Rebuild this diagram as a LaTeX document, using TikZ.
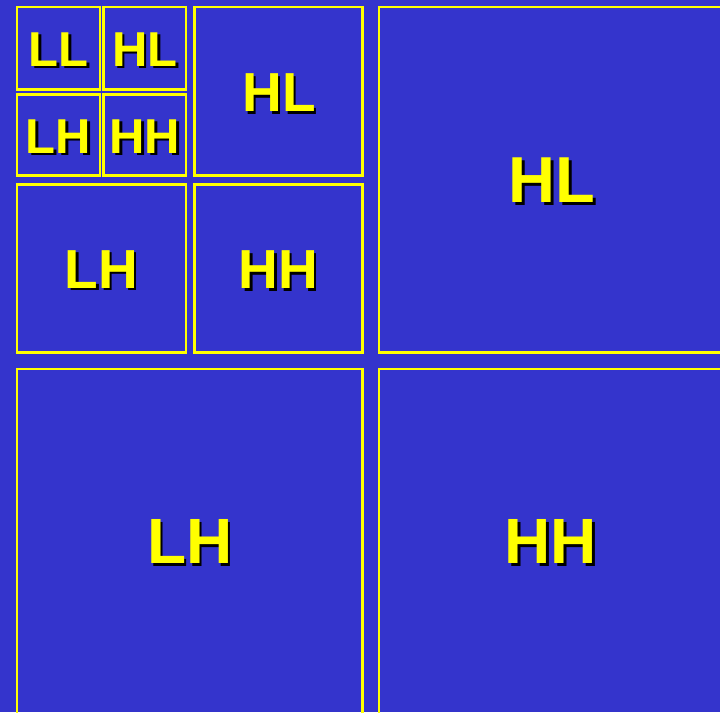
\documentclass[tikz,border=0pt]{standalone}
\usepackage{fontspec}
\setmainfont{Liberation Sans}
\definecolor{bgblue}{HTML}{3434CC}
\definecolor{ylw}{HTML}{FFFF00}
\tikzset{
  band/.style={draw=ylw, line width=2.5pt},
  lbl/.style={anchor=base, inner sep=0pt, text=ylw},
  shd/.style={anchor=base, inner sep=0pt, text=black},
}
\newcommand{\bandlabel}[5]{%
  \node[shd, font=\fontsize{#4}{#4}\selectfont\bfseries] (#1s) at ({#2+2.5},{712-#3-0.35*#4-2.5}) {#5};
  \node[lbl, font=\fontsize{#4}{#4}\selectfont\bfseries] (#1) at ({#2},{712-#3-0.35*#4}) {#5};
}
\newcommand{\bandbox}[5]{%
  \draw[band] ({#2},{712-#3}) rectangle ({#4},{712-#5}) coordinate (#1);
}
\begin{document}
\begin{tikzpicture}[x=1pt,y=1pt]
\fill[bgblue] (0,0) rectangle (720,712);
\useasboundingbox (0,0) rectangle (720,712);
\begin{scope}
\clip (0,0) rectangle (720,712);
\bandbox{bLL}{17}{7}{100}{89.7}
\bandbox{bHLs}{103.7}{7}{186}{89.7}
\bandbox{bLHs}{17}{94.3}{100}{175.7}
\bandbox{bHHs}{103.7}{94.3}{186}{175.7}
\bandbox{bHLm}{194.3}{7}{362.7}{175.7}
\bandbox{bLHm}{17}{184.3}{186}{352.7}
\bandbox{bHHm}{194.3}{184.3}{362.7}{352.7}
\bandbox{bHLL}{379}{7}{726}{352.7}
\bandbox{bLHL}{17}{369}{362.7}{716}
\bandbox{bHHL}{379}{369}{726}{716}
\end{scope}
\bandlabel{tLL}{58.5}{49}{49}{LL}
\bandlabel{tHLs}{145}{49}{49}{HL}
\bandlabel{tLHs}{58.5}{136}{49}{LH}
\bandlabel{tHHs}{145}{136}{49}{HH}
\bandlabel{tHLm}{279}{92.5}{55}{HL}
\bandlabel{tLHm}{101.5}{269}{55}{LH}
\bandlabel{tHHm}{278.5}{269.5}{55}{HH}
\bandlabel{tHLL}{552}{180}{65}{HL}
\bandlabel{tLHL}{190}{541.5}{64}{LH}
\bandlabel{tHHL}{551}{541.5}{64}{HH}
\end{tikzpicture}
\end{document}
